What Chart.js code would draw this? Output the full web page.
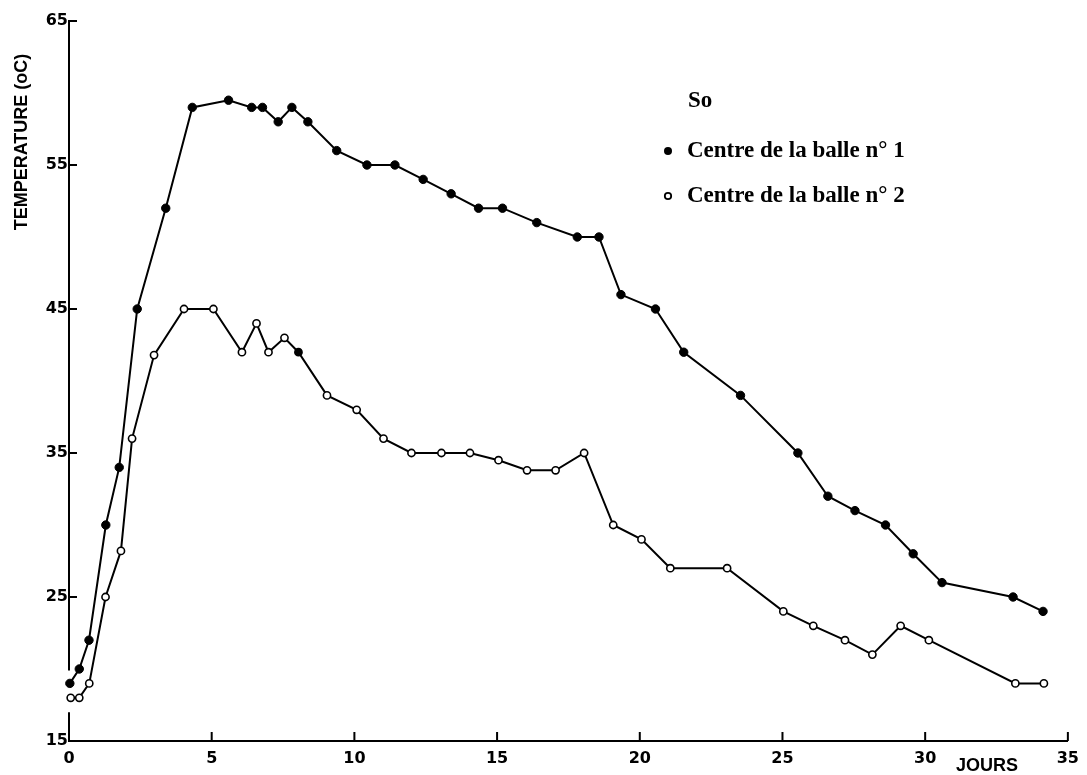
<!DOCTYPE html>
<html>
<head>
<meta charset="utf-8">
<script src="https://cdn.jsdelivr.net/npm/chart.js@4"></script>
<style>
  body{margin:0;background:#fff;}
  #wrap{width:1087px;height:775px;}
</style>
</head>
<body>
<div id="wrap"><canvas id="myChart" width="1087" height="775"></canvas></div>
<script>
// jours / temperatures
const days1=[0.03,0.36,0.7,1.29,1.76,2.39,3.39,4.32,5.59,6.4,6.78,7.33,7.81,8.37,9.38,10.44,11.42,12.41,13.39,14.35,15.19,16.39,17.81,18.57,19.34,20.55,21.54,23.53,25.54,26.59,27.54,28.61,29.58,30.59,33.08,34.13];
const temp1=[19,20,22,30,34,45,52,59,59.5,59,59,58,59,58,56,55,55,54,53,52,52,51,50,50,46,45,42,39,35,32,31,30,28,26,25,24];
const days2=[0.06,0.36,0.71,1.28,1.82,2.21,2.98,4.03,5.06,6.06,6.57,6.99,7.55,8.04,9.04,10.08,11.02,12.0,13.05,14.05,15.05,16.05,17.05,18.05,19.07,20.06,21.07,23.06,25.03,26.08,27.19,28.15,29.14,30.13,33.16,34.16];
const temp2=[18,18,19,25,28.2,36,41.8,45,45,42,44,42,43,42,39,38,36,35,35,35,34.5,33.8,33.8,35,30,29,27,27,24,23,22,21,23,22,19,19];
const xTicks=[0,5,10,15,20,25,30,35];
const yTicks=[15,25,35,45,55,65];
const legendTitle="So";
const seriesNames=["Centre de la balle n° 1","Centre de la balle n° 2"];

function pts(xs,ys){
  var out=[];
  for(var i=0;i<xs.length;i++){out.push({x:xs[i],y:ys[i]});}
  return out;
}

// axes dessines a la main : ticks vers l'interieur, coupure de l'axe y
const axesPlugin={
  id:'axesPlugin',
  afterDraw(chart){
    const ctx=chart.ctx;
    const xs=chart.scales.x, ys=chart.scales.y;
    const a=chart.chartArea;
    ctx.save();
    ctx.strokeStyle='#000';
    ctx.lineWidth=2;
    ctx.lineCap='butt';
    // axe y avec une coupure pres du bas
    ctx.beginPath();
    ctx.moveTo(a.left,ys.getPixelForValue(65)-1);
    ctx.lineTo(a.left,ys.getPixelForValue(19.9));
    ctx.moveTo(a.left,ys.getPixelForValue(17));
    ctx.lineTo(a.left,a.bottom);
    ctx.stroke();
    ctx.beginPath();
    xTicks.forEach(function(t){
      var px=xs.getPixelForValue(t);
      ctx.moveTo(px,a.bottom);ctx.lineTo(px,a.bottom-9);
    });
    yTicks.forEach(function(t){
      var py=ys.getPixelForValue(t);
      ctx.moveTo(a.left,py);ctx.lineTo(a.left+8,py);
    });
    ctx.stroke();

    // titres des axes
    ctx.fillStyle='#000';
    ctx.font='bold 18px "Liberation Sans", Arial, sans-serif';
    ctx.textAlign='center';
    ctx.textBaseline='middle';
    ctx.save();
    ctx.translate(22,142);
    ctx.rotate(-Math.PI/2);
    ctx.fillText('TEMPERATURE (oC)',0,0);
    ctx.restore();
    ctx.fillText('JOURS',987,766);

    // legende
    ctx.textAlign='left';
    ctx.textBaseline='alphabetic';
    ctx.font='bold 23px "Liberation Serif", "DejaVu Serif", serif';
    ctx.fillText(legendTitle,688,107);
    ctx.fillText(seriesNames[0],687,157);
    ctx.fillText(seriesNames[1],687,202);
    ctx.beginPath();
    ctx.arc(668,151,4,0,Math.PI*2);
    ctx.fill();
    ctx.beginPath();
    ctx.lineWidth=1.8;
    ctx.arc(668,196,3.2,0,Math.PI*2);
    ctx.stroke();
    ctx.restore();
  }
};

var tickFont={family:'"DejaVu Sans", Arial, sans-serif',size:16,weight:'bold'};

var myChart=document.getElementById('myChart').getContext('2d');
var chart=new Chart(myChart,{
  type:'line',
  data:{
    datasets:[
      {
        label:seriesNames[0],
        data:pts(days1,temp1),
        borderColor:'#000',
        borderWidth:2,
        pointRadius:4.2,
        pointBackgroundColor:'#000',
        pointBorderColor:'#000',
        pointBorderWidth:1,
        tension:0,
        clip:false
      },
      {
        label:seriesNames[1],
        data:pts(days2,temp2),
        borderColor:'#000',
        borderWidth:2,
        pointRadius:3.6,
        pointBackgroundColor:function(c){return c.dataIndex===13?'#000':'#fff';},
        pointBorderColor:'#000',
        pointBorderWidth:1.6,
        tension:0,
        clip:false
      }
    ]
  },
  options:{
    responsive:false,
    animation:false,
    layout:{padding:{top:21,right:18,left:0,bottom:0}},
    plugins:{legend:{display:false},tooltip:{enabled:false}},
    scales:{
      x:{
        type:'linear',
        min:0,max:35,
        afterFit:function(s){s.height=34;},
        afterBuildTicks:function(s){s.ticks=xTicks.map(function(v){return {value:v};});},
        grid:{display:true,drawOnChartArea:false,drawTicks:false},
        border:{display:true,color:'#000',width:2},
        ticks:{color:'#000',padding:8,maxRotation:0,font:tickFont}
      },
      y:{
        min:15,max:65,
        afterFit:function(s){s.width=69;},
        afterBuildTicks:function(s){s.ticks=yTicks.map(function(v){return {value:v};});},
        grid:{display:false,drawTicks:false},
        border:{display:false},
        ticks:{color:'#000',padding:1,font:tickFont}
      }
    }
  },
  plugins:[axesPlugin]
});
</script>
</body>
</html>
